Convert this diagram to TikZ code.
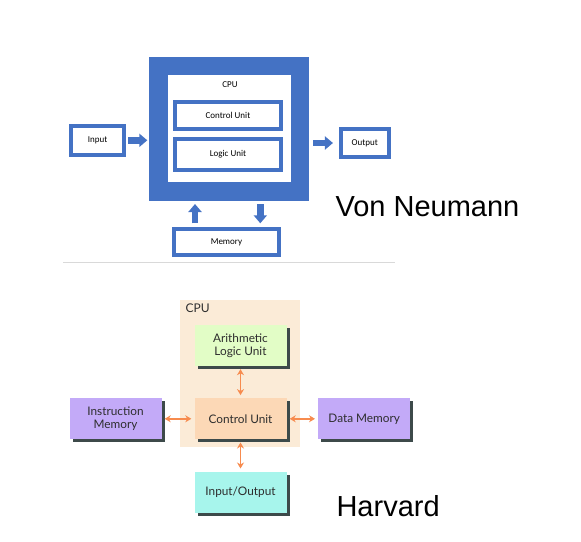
\documentclass[tikz,border=0pt]{standalone}
\usepackage{fontspec}
\setmainfont{Liberation Sans}
\newfontfamily\calfont{Carlito}
\newfontfamily\harfont{Lato}
\usetikzlibrary{arrows.meta}
\definecolor{vnblue}{HTML}{4472C4}
\definecolor{sepgray}{HTML}{D9D9D9}
\definecolor{hvcpu}{HTML}{FBEBD7}
\definecolor{hvalu}{HTML}{E2FDC6}
\definecolor{hvcu}{HTML}{FCD8B6}
\definecolor{hvmem}{HTML}{C3AAF8}
\definecolor{hvio}{HTML}{A7F5EC}
\definecolor{hvorange}{HTML}{F78B4E}
\definecolor{hvshadow}{HTML}{3D4A4A}
\definecolor{hvtext}{HTML}{2E2E2E}
\tikzset{
  vnbox/.style={draw=vnblue, line width=4pt, fill=white, inner sep=0pt,
    font=\calfont\fontsize{9}{10}\selectfont},
  vnarrow/.style={draw=vnblue, line width=6.5pt, -{Triangle[length=8pt,width=13pt]}},
  hvbox/.style={minimum width=92pt, minimum height=41pt, inner sep=0pt, align=center,
    text=hvtext, font=\harfont\fontsize{11.8}{13.5}\selectfont,
    preaction={fill=hvshadow, transform canvas={xshift=3pt,yshift=-3pt}}},
  hvarrow/.style={draw=hvorange, line width=1.5pt,
    {Stealth[length=6pt,width=7pt]}-{Stealth[length=6pt,width=7pt]},
    shorten <=3pt, shorten >=3pt},
  title/.style={anchor=base west, font=\fontsize{29}{34}\selectfont}
}

\begin{document}
\begin{tikzpicture}[x=1pt,y=-1pt]
  \useasboundingbox (0,0) rectangle (581,541);
  \node (cpu) at (229.3,128.7) [draw=vnblue, line width=18.5pt, minimum width=141.5pt, minimum height=125.5pt] {};
  \node (cpul) at (230,84.5) [font=\calfont\fontsize{9}{10}\selectfont] {CPU};
  \node (cu) at (228,115.7) [vnbox, minimum width=105.4pt, minimum height=27.3pt] {Control Unit};
  \node (lu) at (228,154.5) [vnbox, minimum width=105.4pt, minimum height=30.4pt] {Logic Unit};
  \node (in) at (97.7,140.3) [vnbox, minimum width=53.3pt, minimum height=28.7pt] {Input};
  \node (out) at (364.8,143) [vnbox, minimum width=48.3pt, minimum height=28pt] {Output};
  \node (mem) at (226.5,242) [vnbox, minimum width=105.6pt, minimum height=26.6pt] {Memory};
  \coordinate (mup) at ([xshift=-31.5pt]mem.north);
  \coordinate (mdn) at ([xshift=33.8pt]mem.north);
  \draw[vnarrow, shorten <=2pt, shorten >=2pt] (in.east) -- (in.east -| cpu.west);
  \draw[vnarrow, shorten <=4pt, shorten >=5.7pt] (out.west -| cpu.east) -- (out.west);
  \draw[vnarrow, shorten <=3.4pt, shorten >=3.3pt] (mup) -- (mup |- cpu.south);
  \draw[vnarrow, shorten <=3.3pt, shorten >=3.4pt] (mdn |- cpu.south) -- (mdn);
  \node (vn) at (332,216) [title] {Von Neumann};
  \draw[sepgray, line width=0.8pt] (63,262.7) -- (395,262.7);

  \node (hcpu) at (240,373.7) [fill=hvcpu, minimum width=120pt, minimum height=147.3pt] {};
  \node (hcpul) at (182,300.5) [anchor=north west, text=hvtext, font=\harfont\fontsize{12}{14}\selectfont] {CPU};
  \node (alu) at (240.5,345.5) [hvbox, fill=hvalu] {Arithmetic\\Logic Unit};
  \node (hcu) at (240.5,418.8) [hvbox, fill=hvcu] {Control Unit};
  \node (imem) at (115.5,418.8) [hvbox, fill=hvmem] {Instruction\\Memory};
  \node (dmem) at (364.2,418.8) [hvbox, fill=hvmem] {Data Memory};
  \node (io) at (240.5,492.2) [hvbox, fill=hvio] {Input/Output};
  \draw[hvarrow] (alu) -- (hcu);
  \draw[hvarrow] (hcu) -- (io);
  \draw[hvarrow] (imem) -- (hcu);
  \draw[hvarrow] (hcu) -- (dmem);
  \node (hv) at (333,516.7) [title] {Harvard};
\end{tikzpicture}
\end{document}
